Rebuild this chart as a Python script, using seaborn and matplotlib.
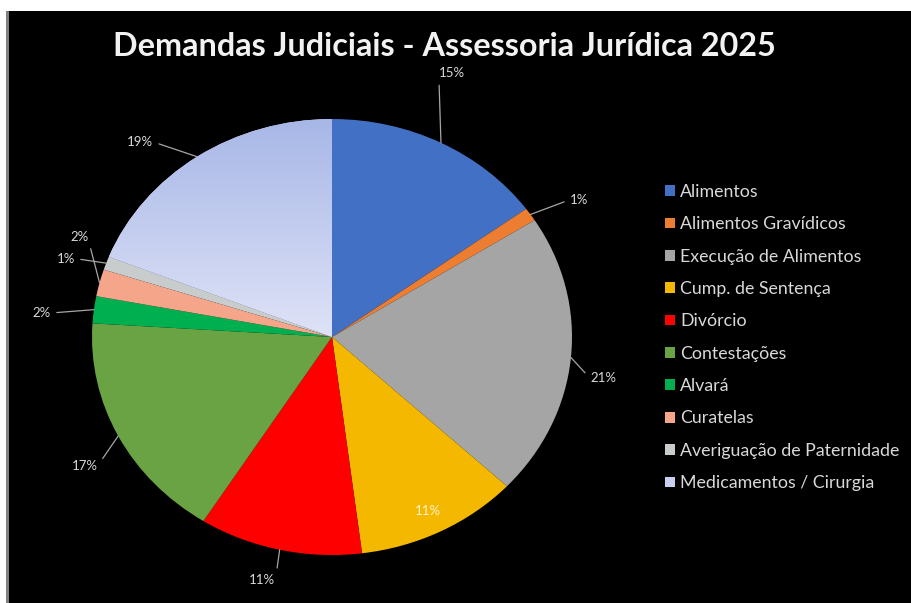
import numpy as np
import matplotlib
matplotlib.use("Agg")
import matplotlib.pyplot as plt
import seaborn as sns
from matplotlib.patches import Rectangle
from matplotlib.colors import LinearSegmentedColormap

# Demand categories and their share (%)
categories = [
    "Alimentos",
    "Alimentos Gravídicos",
    "Execução de Alimentos",
    "Cump. de Sentença",
    "Divórcio",
    "Contestações",
    "Alvará",
    "Curatelas",
    "Averiguação de Paternidade",
    "Medicamentos / Cirurgia",
]
shares = [15, 1, 21, 11, 11, 17, 2, 2, 1, 19]
pct_labels = ["15%", "1%", "21%", "11%", "11%", "17%", "2%", "2%", "1%", "19%"]

colors = ["#4270C4", "#ED7D31", "#A5A5A5", "#F5B800", "#FF0000",
          "#6AA343", "#00B050", "#F4A58A", "#C8CCCC", "#C8CFF0"]

# label text positions (pie data units), leader attach point on the text box
label_pos = [(0.50, 1.21), (1.03, 0.63), (1.13, -0.19), (0.40, -0.80),
             (-0.29, -1.115), (-1.03, -0.59), (-1.21, 0.11), (-1.05, 0.46),
             (-1.11, 0.36), (-0.80, 0.895)]
relpos = [(0.0, 0.0), (0.0, 0.5), (0.0, 0.5), None, (1.0, 0.5), (1.0, 0.5),
          (1.0, 0.5), (1.0, 0.0), (1.0, 0.5), (1.0, 0.5)]

sns.set_theme(style="dark")
plt.rcParams["font.family"] = ["Lato", "DejaVu Sans"]

fig = plt.figure(figsize=(9.11, 6.03), dpi=100, facecolor="white")
W, H = 911, 603

# black chart area with thin gray edge on the left
fig.patches.append(Rectangle((9 / W, 0), 1 - 9 / W, 1 - 11 / H, transform=fig.transFigure,
                             facecolor="black", edgecolor="none", zorder=-10))
fig.patches.append(Rectangle((6 / W, 0), 3 / W, 1 - 11 / H, transform=fig.transFigure,
                             facecolor="#808080", edgecolor="none", zorder=-10))

# pie axes (stretched ellipse)
ax = fig.add_axes([92 / W, (H - 555) / H, 480 / W, 436 / H])
ax.set_zorder(5)
ax.set_facecolor("none")
wedges, _ = ax.pie(shares, colors=colors, startangle=90, counterclock=False,
                   radius=1.0, wedgeprops=dict(linewidth=0))

# soft vertical gradient fill on the last slice
grad_cmap = LinearSegmentedColormap.from_list("lav", ["#E2E5F8", "#A6B6E6"])
grad = np.linspace(0, 1, 256).reshape(-1, 1)
im = ax.imshow(grad, extent=(-1.05, 0.05, -0.05, 1.02), origin="lower", cmap=grad_cmap,
               aspect="auto", zorder=2)
im.set_clip_path(wedges[-1])

ax.set_aspect("auto")
ax.set_xlim(-1, 1)
ax.set_ylim(-1, 1)
ax.axis("off")

total = float(sum(shares))
cum = 0.0
for i, v in enumerate(shares):
    mid = (cum + v / 2) / total
    cum += v
    ang = np.deg2rad(90 - 360 * mid)
    anchor = (np.cos(ang), np.sin(ang))
    txt_color = "#FFF3D0" if i == 3 else "#D9D9D9"
    if relpos[i] is not None:
        ax.annotate(pct_labels[i], xy=anchor, xytext=label_pos[i],
                    ha="center", va="center", fontsize=9.5, color=txt_color,
                    annotation_clip=False, zorder=6,
                    arrowprops=dict(arrowstyle="-", color="#A6A6A6", lw=0.9,
                                    shrinkA=2, shrinkB=0, relpos=relpos[i]))
    else:
        ax.text(*label_pos[i], pct_labels[i], ha="center", va="center",
                fontsize=9.5, color=txt_color, zorder=6)

fig.text(444 / W, 1 - 46 / H, "Demandas Judiciais - Assessoria Jurídica 2025",
         ha="center", va="center", fontsize=23.3, fontweight="bold", color="#F2F2F2")

leg = fig.legend(wedges, categories, loc="upper left",
                 bbox_to_anchor=(665 / W, 1 - 184 / H), frameon=False,
                 fontsize=12.8, labelcolor="#D9D9D9", handlelength=0.55,
                 handleheight=0.55, handletextpad=0.3, labelspacing=0.92,
                 borderpad=0, borderaxespad=0)

fig.savefig("out.png", dpi=100, facecolor="white")
